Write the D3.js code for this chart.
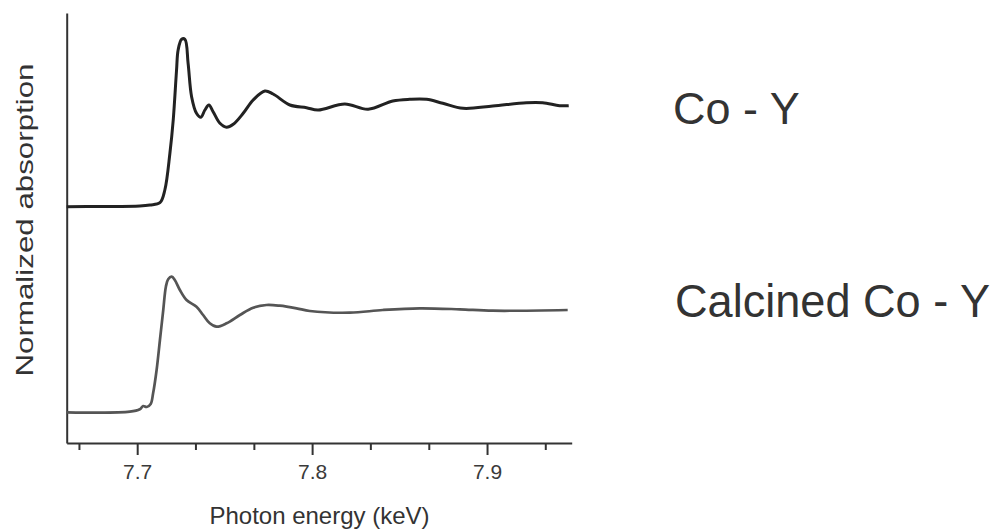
<!DOCTYPE html>
<html><head><meta charset="utf-8">
<script src="https://cdn.jsdelivr.net/npm/d3@7"></script>
<style>html,body{margin:0;padding:0;background:#fff;}svg{display:block;font-family:"Liberation Sans",Arial,sans-serif;}</style>
</head><body><svg id="c" width="1003" height="531"></svg>
<script>
// Photon energy (keV) and normalized absorption (offset, arbitrary units)
const coY_energy = [7.6597,7.6787,7.7015,7.7073,7.7130,7.7158,7.7187,7.7206,7.7225,7.7234,7.7254,7.7273,7.7291,7.7311,7.7339,7.7364,7.7387,7.7410,7.7434,7.7473,7.7511,7.7549,7.7606,7.7663,7.7730,7.7777,7.7873,7.7968,7.8034,7.8187,7.8320,7.8461,7.8558,7.8654,7.8747,7.8863,7.9033,7.9225,7.9318,7.9415,7.9467];
const coY_abs    = [2.363,2.365,2.370,2.380,2.403,2.530,2.897,3.230,3.730,3.930,4.037,4.037,3.797,3.463,3.297,3.257,3.330,3.380,3.313,3.197,3.157,3.187,3.297,3.430,3.520,3.490,3.380,3.353,3.330,3.390,3.337,3.420,3.437,3.437,3.397,3.347,3.370,3.403,3.403,3.373,3.373];
const calc_energy = [7.6597,7.6958,7.7015,7.7034,7.7054,7.7077,7.7091,7.7111,7.7130,7.7149,7.7164,7.7177,7.7197,7.7215,7.7244,7.7282,7.7339,7.7377,7.7415,7.7454,7.7511,7.7587,7.7663,7.7739,7.7815,7.7911,7.7987,7.8215,7.8404,7.8615,7.8844,7.9033,7.9461];
const calc_abs    = [0.307,0.313,0.337,0.370,0.360,0.390,0.497,0.730,1.030,1.330,1.563,1.637,1.663,1.630,1.530,1.430,1.363,1.280,1.197,1.163,1.197,1.280,1.353,1.380,1.373,1.347,1.320,1.303,1.330,1.347,1.337,1.323,1.330];
const majorTicks = [7.7,7.8,7.9];
const minorTicks = [7.6667,7.7333,7.7667,7.8333,7.8667,7.9333];
const xDomain = [7.6597,7.9484];
const yDomain = [0,4.3];
const seriesLabels = ["Co - Y","Calcined Co - Y"];
const xTitle = "Photon energy (keV)";
const yTitle = "Normalized absorption";

const svg = d3.select("#c");
const x = d3.scaleLinear().domain(xDomain).range([66.7,571.7]);
const y = d3.scaleLinear().domain(yDomain).range([443,13]);

// minor ticks
const gMin = svg.append("g").attr("transform","translate(0,443)")
  .call(d3.axisBottom(x).tickValues(minorTicks).tickSize(7).tickFormat("").tickSizeOuter(0));
gMin.select(".domain").remove();
gMin.selectAll("line").attr("stroke","#333").attr("stroke-width",2);

const gx = svg.append("g").attr("transform","translate(0,443)")
  .call(d3.axisBottom(x).tickValues(majorTicks).tickSize(12).tickSizeOuter(0).tickFormat(d3.format(".1f")).tickPadding(9));
gx.attr("font-size",null);
gx.select(".domain").attr("stroke","#333").attr("stroke-width",2);
gx.selectAll("line").attr("stroke","#333").attr("stroke-width",2);
gx.selectAll("text").style("font-size","21px").attr("fill","#3a3a3a").style("font-family","'Liberation Sans', Arial, sans-serif");

const gy = svg.append("g").attr("transform","translate(66.7,0)")
  .call(d3.axisLeft(y).tickValues([]).tickSizeOuter(0));
gy.select(".domain").attr("stroke","#333").attr("stroke-width",2);

const line = d3.line().x(d=>x(d[0])).y(d=>y(d[1])).curve(d3.curveCatmullRom.alpha(0.5));
svg.append("path").datum(d3.zip(coY_energy,coY_abs)).attr("d",line)
  .attr("fill","none").attr("stroke","#222").attr("stroke-width",3).attr("stroke-linejoin","round");
svg.append("path").datum(d3.zip(calc_energy,calc_abs)).attr("d",line)
  .attr("fill","none").attr("stroke","#555").attr("stroke-width",2.7).attr("stroke-linejoin","round");

svg.append("text").attr("x",319.5).attr("y",524).attr("text-anchor","middle")
  .attr("font-size",24).attr("fill","#333").text(xTitle);
svg.append("text").attr("transform","translate(33,220) rotate(-90)").attr("text-anchor","middle")
  .attr("font-size",24).attr("fill","#333").attr("textLength",313).attr("lengthAdjust","spacingAndGlyphs").text(yTitle);

svg.append("text").attr("x",673).attr("y",124).attr("font-size",45).attr("fill","#333").text(seriesLabels[0]);
svg.append("text").attr("x",675).attr("y",316.5).attr("font-size",47).attr("fill","#333")
  .attr("textLength",315).attr("lengthAdjust","spacingAndGlyphs").text(seriesLabels[1]);
</script></body></html>
